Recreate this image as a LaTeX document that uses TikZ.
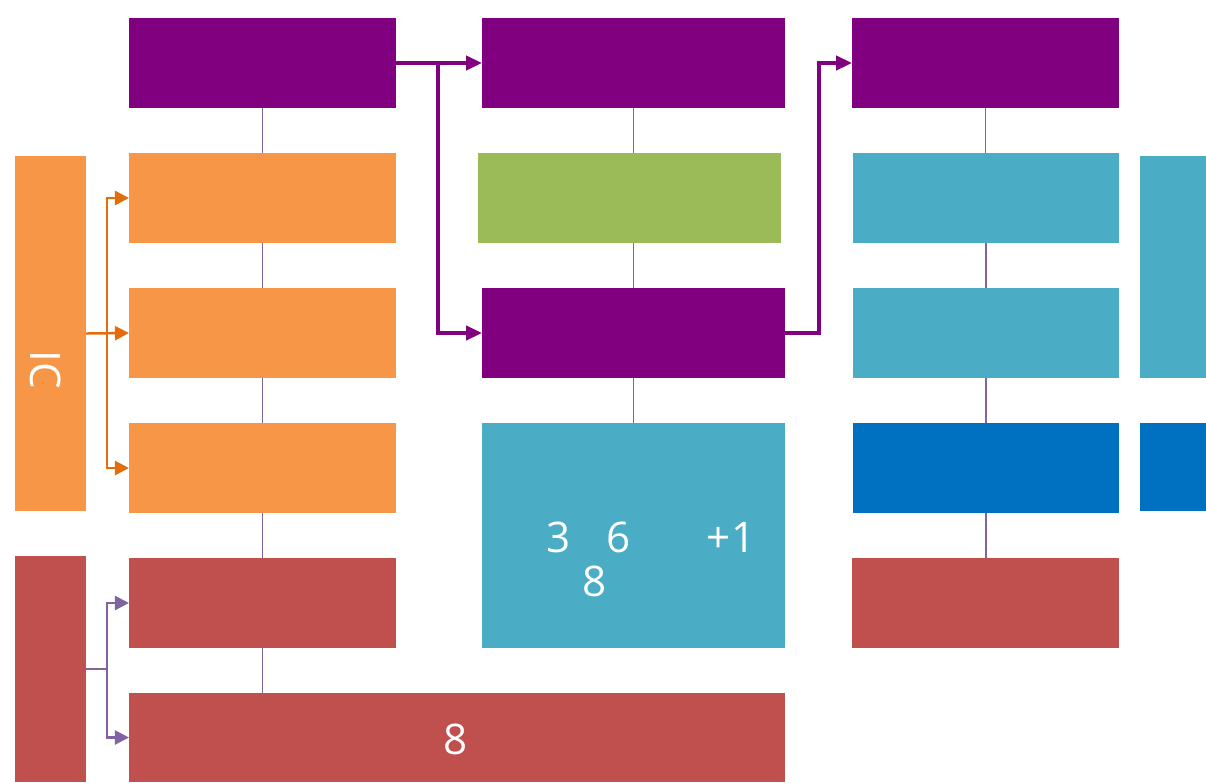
\documentclass[tikz,border=0pt]{standalone}
\usepackage{fontspec}
\setmainfont{Open Sans}
\usetikzlibrary{fit,arrows.meta}
\definecolor{purp}{HTML}{800080}
\definecolor{orng}{HTML}{F79646}
\definecolor{orngline}{HTML}{E46C0A}
\definecolor{grn}{HTML}{9BBB59}
\definecolor{teal}{HTML}{4BACC6}
\definecolor{blu}{HTML}{0070C0}
\definecolor{rd}{HTML}{C0504D}
\definecolor{lav}{HTML}{8064A2}
\tikzset{
	box/.style={inner sep=0pt, outer sep=0pt, draw=none},
	vline/.style={draw=lav, line width=1pt},
	parrow/.style={draw=purp, line width=2pt, -{Triangle[length=9pt,width=8pt]}},
	oarrow/.style={draw=orngline, line width=1.4pt, -{Triangle[length=8pt,width=8pt]}},
	larrow/.style={draw=lav, line width=1.2pt, -{Triangle[length=8pt,width=8pt]}},
	lbl/.style={text=white, font=\fontsize{24}{27}\selectfont}
}
\begin{document}
\begin{tikzpicture}[x=0.02cm,y=-0.02cm]
	\useasboundingbox (0,0) rectangle (1206,782);
	\node[box, fill=purp, fit={(129,18) (396,108)}] (c1r1) {};
	\node[box, fill=orng, fit={(129,153) (396,243)}] (c1r2) {};
	\node[box, fill=orng, fit={(129,288) (396,378)}] (c1r3) {};
	\node[box, fill=orng, fit={(129,423) (396,513)}] (c1r4) {};
	\node[box, fill=rd, fit={(129,558) (396,648)}] (c1r5) {};
	\node[box, fill=rd, fit={(129,693) (785,782)}] (c1r6) {};
	\node[box, fill=purp, fit={(482,18) (785,108)}] (c2r1) {};
	\node[box, fill=grn, fit={(478,153) (781,243)}] (c2r2) {};
	\node[box, fill=purp, fit={(482,288) (785,378)}] (c2r3) {};
	\node[box, fill=teal, fit={(482,423) (785,648)}] (c2r4) {};
	\node[box, fill=purp, fit={(852,18) (1119,108)}] (c3r1) {};
	\node[box, fill=teal, fit={(853,153) (1119,243)}] (c3r2) {};
	\node[box, fill=teal, fit={(853,288) (1119,378)}] (c3r3) {};
	\node[box, fill=blu, fit={(853,423) (1119,513)}] (c3r4) {};
	\node[box, fill=rd, fit={(852,558) (1119,648)}] (c3r5) {};
	\node[box, fill=teal, fit={(1140,156) (1206,378)}] (side1) {};
	\node[box, fill=blu, fit={(1140,423) (1206,511)}] (side2) {};
	\node[box, fill=orng, fit={(15,156) (86,511)}] (ic) {};
	\node[box, fill=rd, fit={(15,556) (86,782)}] (lred) {};
	\node[lbl, rotate=-90] (icl) at (46,370) {IC};
	\node[lbl] (n3) at (559,537) {3};
	\node[lbl] (n6) at (619,537) {6};
	\node[lbl] (np1) at (731,537) {+1};
	\node[lbl] (n8a) at (595,581) {8};
	\node[lbl] (n8b) at (456,739) {8};
	\draw[vline] (c1r1.south) -- (c1r2.north);
	\draw[vline] (c1r2.south) -- (c1r3.north);
	\draw[vline] (c1r3.south) -- (c1r4.north);
	\draw[vline] (c1r4.south) -- (c1r5.north);
	\draw[vline] (c1r5.south) -- (c1r5.south |- c1r6.north);
	\draw[vline] (c2r1.south) -- (c2r1.south |- c2r2.north);
	\draw[vline] (c2r2.south -| c2r3.north) -- (c2r3.north);
	\draw[vline] (c2r3.south) -- (c2r4.north);
	\draw[vline] (c3r1.south) -- (c3r1.south |- c3r2.north);
	\draw[vline] (c3r2.south) -- (c3r3.north);
	\draw[vline] (c3r3.south) -- (c3r4.north);
	\draw[vline] (c3r4.south) -- (c3r4.south |- c3r5.north);
	\coordinate (pj) at (438,63);
	\coordinate (pk) at (819,333);
	\draw[parrow] (c1r1.east) -- (c2r1.west);
	\draw[parrow] (pj) |- (c2r3.west);
	\draw[parrow] (c2r3.east) -- (pk) |- (c3r1.west);
	\coordinate (oj) at (107,333);
	\draw[oarrow] (ic.east) -- (c1r3.west);
	\draw[oarrow] (oj) |- (c1r2.west);
	\draw[oarrow] (oj) |- (c1r4.west);
	\coordinate (lj) at (107,669);
	\draw[draw=lav, line width=1.2pt] (lred.east) -- (lj);
	\draw[larrow] (lj) |- (c1r5.west);
	\draw[larrow] (lj) |- (c1r6.west);
\end{tikzpicture}
\end{document}
